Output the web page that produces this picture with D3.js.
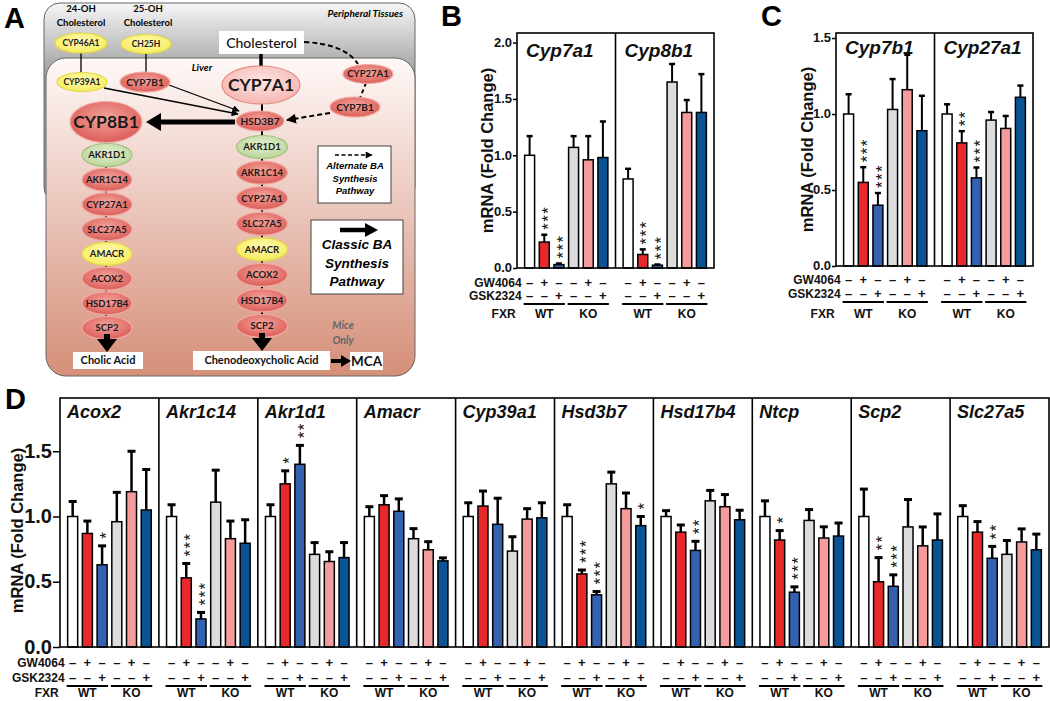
<!DOCTYPE html>
<html>
<head>
<meta charset="utf-8">
<script src="https://cdn.jsdelivr.net/npm/d3@7"></script>
<style>
body { margin: 0; background: #fff; }
svg { display: block; font-family: Arial, "Liberation Sans", sans-serif; }
</style>
</head>
<body>
<script>
// treatment layout, same in every bar panel
var gw4064 = ["–", "+", "–", "–", "+", "–"];
var gsk2324 = ["–", "–", "+", "–", "–", "+"];
var fxrGroups = ["WT", "KO"];
var barColors = ["#ffffff", "#e8282a", "#3462b0", "#dcdcdc", "#f59b9c", "#0a5495"];

// panel B
var genesB = ["Cyp7a1", "Cyp8b1"];
var meansB = [[1.0, 0.23, 0.03, 1.07, 0.96, 0.98], [0.79, 0.12, 0.025, 1.65, 1.38, 1.38]];
var errsB = [[0.17, 0.065, 0.01, 0.10, 0.21, 0.32], [0.09, 0.045, 0.006, 0.16, 0.11, 0.34]];
var starsB = [["", "***", "***", "", "", ""], ["", "***", "***", "", "", ""]];
var ticksB = [0, 0.5, 1, 1.5, 2];

// panel C
var genesC = ["Cyp7b1", "Cyp27a1"];
var meansC = [[1.0, 0.55, 0.40, 1.03, 1.16, 0.89], [1.0, 0.81, 0.58, 0.96, 0.905, 1.11]];
var errsC = [[0.13, 0.10, 0.08, 0.20, 0.23, 0.23], [0.064, 0.077, 0.068, 0.053, 0.082, 0.077]];
var starsC = [["", "***", "***", "", "", ""], ["", "**", "***", "", "", ""]];
var ticksC = [0, 0.5, 1, 1.5];

// panel D
var genesD = ["Acox2", "Akr1c14", "Akr1d1", "Amacr", "Cyp39a1", "Hsd3b7", "Hsd17b4", "Ntcp", "Scp2", "Slc27a5"];
var meansD = [
  [1.0, 0.87, 0.63, 0.96, 1.19, 1.05],
  [1.0, 0.53, 0.215, 1.11, 0.83, 0.795],
  [1.0, 1.25, 1.40, 0.71, 0.655, 0.685],
  [1.0, 1.09, 1.04, 0.83, 0.745, 0.66],
  [1.0, 1.08, 0.94, 0.735, 0.98, 0.99],
  [1.0, 0.56, 0.40, 1.25, 1.06, 0.93],
  [1.0, 0.88, 0.74, 1.12, 1.075, 0.975],
  [1.0, 0.82, 0.42, 0.97, 0.835, 0.85],
  [1.0, 0.50, 0.465, 0.92, 0.775, 0.82],
  [1.0, 0.88, 0.68, 0.71, 0.805, 0.745]
];
var errsD = [
  [0.115, 0.095, 0.145, 0.225, 0.31, 0.31],
  [0.09, 0.11, 0.05, 0.245, 0.135, 0.18],
  [0.09, 0.10, 0.145, 0.09, 0.075, 0.115],
  [0.075, 0.07, 0.095, 0.077, 0.062, 0.023],
  [0.105, 0.115, 0.20, 0.11, 0.08, 0.115],
  [0.09, 0.03, 0.025, 0.09, 0.12, 0.07],
  [0.045, 0.055, 0.07, 0.08, 0.093, 0.073],
  [0.12, 0.072, 0.041, 0.083, 0.086, 0.10],
  [0.21, 0.185, 0.088, 0.21, 0.145, 0.20],
  [0.083, 0.081, 0.091, 0.106, 0.10, 0.12]
];
var starsD = [
  ["", "", "*", "", "", ""],
  ["", "***", "***", "", "", ""],
  ["", "*", "**", "", "", ""],
  ["", "", "", "", "", ""],
  ["", "", "", "", "", ""],
  ["", "***", "***", "", "", "*"],
  ["", "", "**", "", "", ""],
  ["", "*", "***", "", "", ""],
  ["", "**", "***", "", "", ""],
  ["", "", "**", "", "", ""]
];
var ticksD = [0, 0.5, 1, 1.5];

// panel A pathway
var leftPath = ["AKR1D1", "AKR1C14", "CYP27A1", "SLC27A5", "AMACR", "ACOX2", "HSD17B4", "SCP2"];
var rightPath = ["AKR1D1", "AKR1C14", "CYP27A1", "SLC27A5", "AMACR", "ACOX2", "HSD17B4", "SCP2"];
var enzymeKind = { AKR1D1: "green", AMACR: "yellow" };

var svg = d3.select("body").append("svg").attr("width", 1050).attr("height", 701);
var defs = svg.append("defs");

function radial(id, c0, c1) {
  var g = defs.append("radialGradient").attr("id", id).attr("cx", "50%").attr("cy", "40%").attr("r", "60%");
  g.append("stop").attr("offset", "0%").attr("stop-color", c0);
  g.append("stop").attr("offset", "100%").attr("stop-color", c1);
}
radial("gRed", "#f4a39d", "#dc5d57");
radial("gYellow", "#fffbb8", "#f6ec5a");
radial("gGreen", "#e2efd0", "#bcd69c");
radial("gPink", "#fde6e4", "#f6b6b1");

var lg = defs.append("linearGradient").attr("id", "gGray").attr("gradientUnits", "userSpaceOnUse")
  .attr("x1", 0).attr("y1", 3).attr("x2", 0).attr("y2", 70);
lg.append("stop").attr("offset", "0%").attr("stop-color", "#f6f6f6");
lg.append("stop").attr("offset", "100%").attr("stop-color", "#a4a4a4");
var lv = defs.append("linearGradient").attr("id", "gLiver").attr("gradientUnits", "userSpaceOnUse")
  .attr("x1", 0).attr("y1", 58).attr("x2", 0).attr("y2", 376);
lv.append("stop").attr("offset", "0%").attr("stop-color", "#fef8f7");
lv.append("stop").attr("offset", "100%").attr("stop-color", "#d58f79");

function marker(id, w, h) {
  defs.append("marker").attr("id", id).attr("viewBox", "0 0 10 10").attr("refX", 9).attr("refY", 5)
    .attr("markerWidth", w).attr("markerHeight", h).attr("orient", "auto").attr("markerUnits", "userSpaceOnUse")
    .append("path").attr("d", "M0,0 L10,5 L0,10 z").attr("fill", "#000");
}
marker("arrThin", 8, 7);
marker("arrDash", 10, 10);

// ---------------- panel A ----------------
var A = svg.append("g").attr("class", "panelA");
var dfont = "Lato, 'Open Sans', sans-serif";

A.append("rect").attr("x", 44).attr("y", 3).attr("width", 371).attr("height", 200).attr("rx", 16)
  .attr("fill", "url(#gGray)").attr("stroke", "#666").attr("stroke-width", 1);
A.append("rect").attr("x", 46).attr("y", 58).attr("width", 369).attr("height", 318).attr("rx", 20)
  .attr("fill", "url(#gLiver)").attr("stroke", "#666").attr("stroke-width", 1);

A.append("text").attr("x", 403).attr("y", 17).attr("text-anchor", "end")
  .style("font", "italic bold 10px " + dfont).text("Peripheral Tissues");
A.append("text").attr("x", 202).attr("y", 71).attr("text-anchor", "middle")
  .style("font", "italic bold 10px " + dfont).text("Liver");

[["24-OH", 81], ["25-OH", 148]].forEach(function(d) {
  var t = A.append("text").attr("x", d[1]).attr("text-anchor", "middle").style("font", "bold 9.5px " + dfont);
  t.append("tspan").attr("x", d[1]).attr("y", 12).text(d[0]);
  t.append("tspan").attr("x", d[1]).attr("y", 26).text("Cholesterol");
});

function line(x1, y1, x2, y2, w, dash, mk) {
  var l = A.append("line").attr("x1", x1).attr("y1", y1).attr("x2", x2).attr("y2", y2)
    .attr("stroke", "#000").attr("stroke-width", w);
  if (dash) l.attr("stroke-dasharray", dash);
  if (mk) l.attr("marker-end", "url(#" + mk + ")");
  return l;
}

function enzyme(name, cx, cy, rx, ry, size) {
  var kind = enzymeKind[name] || "red";
  var fill = { red: "url(#gRed)", yellow: "url(#gYellow)", green: "url(#gGreen)", pink: "url(#gPink)" };
  var edge = { red: "#f0aaa4", yellow: "#e2d84a", green: "#a3c27e", pink: "#e28c86" };
  return { name: name, cx: cx, cy: cy, rx: rx, ry: ry, size: size, fill: fill[kind], edge: edge[kind] };
}

var yL = d3.scalePoint().domain(d3.range(leftPath.length)).range([155, 328]);
var yR = d3.scalePoint().domain(d3.range(rightPath.length)).range([147, 326]);

// connector lines behind the ellipses
line(106, 130, 106, 330, 2);
line(262, 100, 262, 330, 2);
line(81, 50, 81, 74, 1.3);
line(146, 50, 146, 72, 1.3);
line(261, 52, 261, 68, 3.5);

// arrows into HSD3B7
line(104, 88, 238, 114, 1.3, null, "arrThin");
line(169, 85, 239, 111, 1.3, null, "arrThin");
A.append("path").attr("d", "M304,42 Q345,44 358,64").attr("fill", "none").attr("stroke", "#000")
  .attr("stroke-width", 2).attr("stroke-dasharray", "5,3");
line(366, 83, 360, 98, 2, "4,3");
line(330, 113, 287, 120, 2, "5,3", "arrDash");

// thick arrow to CYP8B1
line(235, 122, 158, 122, 5);
A.append("path").attr("d", "M146,122 L161,113 L161,131 z").attr("fill", "#000");

var nodes = [
  enzyme("CYP46A1", 81, 43, 26, 10, 8.5),
  enzyme("CH25H", 146, 44, 25, 9.5, 8.5),
  enzyme("CYP39A1", 82, 82, 25, 9.5, 8.5),
  enzyme("CYP7B1", 145, 82, 25, 10, 10),
  enzyme("CYP27A1", 368, 74, 25, 9.5, 9.5),
  enzyme("CYP7B1", 355, 107, 25, 10, 10),
  enzyme("HSD3B7", 260, 121, 24, 10, 10),
  enzyme("CYP8B1", 106, 122, 36, 20.5, 17.5)
];
nodes[0].fill = "url(#gYellow)"; nodes[0].edge = "#e2d84a";
nodes[1].fill = "url(#gYellow)"; nodes[1].edge = "#e2d84a";
nodes[2].fill = "url(#gYellow)"; nodes[2].edge = "#e2d84a";
var c7a1 = enzyme("CYP7A1", 261, 85, 39, 19, 17.5);
c7a1.fill = "url(#gPink)"; c7a1.edge = "#e28c86";
nodes.push(c7a1);
leftPath.forEach(function(n, i) { nodes.push(enzyme(n, 107, yL(i), 25, 11.5, 9.5)); });
rightPath.forEach(function(n, i) { nodes.push(enzyme(n, 262, yR(i), 25.5, 11.5, 9.5)); });

var ng = A.selectAll("g.node").data(nodes).enter().append("g").attr("class", "node");
ng.append("ellipse").attr("cx", function(d) { return d.cx; }).attr("cy", function(d) { return d.cy; })
  .attr("rx", function(d) { return d.rx; }).attr("ry", function(d) { return d.ry; })
  .attr("fill", function(d) { return d.fill; }).attr("stroke", function(d) { return d.edge; }).attr("stroke-width", 1.2);
ng.append("text").attr("x", function(d) { return d.cx; }).attr("y", function(d) { return d.cy; })
  .attr("dy", "0.36em").attr("text-anchor", "middle").attr("fill", "#1a1a1a")
  .style("font", function(d) { return "bold " + d.size + "px " + dfont; })
  .text(function(d) { return d.name; });

// cholesterol and products
function labelBox(txt, x0, y0, x1, y1, font) {
  A.append("rect").attr("x", x0).attr("y", y0).attr("width", x1 - x0).attr("height", y1 - y0).attr("fill", "#fff");
  A.append("text").attr("x", (x0 + x1) / 2).attr("y", (y0 + y1) / 2).attr("dy", "0.36em")
    .attr("text-anchor", "middle").attr("fill", "#111").style("font", font).text(txt);
}
labelBox("Cholesterol", 219, 31, 304, 54, "500 14px " + dfont);
labelBox("Cholic Acid", 73, 352, 143, 369, "bold 11px " + dfont);
labelBox("Chenodeoxycholic Acid", 193, 351, 330, 370, "bold 11px " + dfont);
labelBox("MCA", 350, 352, 383, 370, "bold 13.5px " + dfont);

A.append("path").attr("d", "M97,339 L117,339 L107,352 z").attr("fill", "#000");
A.append("rect").attr("x", 104).attr("y", 334).attr("width", 6).attr("height", 6).attr("fill", "#000");
A.append("path").attr("d", "M252,338 L272,338 L262,351 z").attr("fill", "#000");
A.append("rect").attr("x", 259).attr("y", 333).attr("width", 6).attr("height", 6).attr("fill", "#000");
line(331, 361, 342, 361, 4);
A.append("path").attr("d", "M341,355 L351,361 L341,367 z").attr("fill", "#000");

var mice = A.append("text").attr("text-anchor", "middle").attr("fill", "#666")
  .style("font", "italic bold 10.5px " + dfont);
mice.append("tspan").attr("x", 343).attr("y", 329).text("Mice");
mice.append("tspan").attr("x", 343).attr("y", 344).text("Only");

// legend boxes
A.append("rect").attr("x", 318).attr("y", 146).attr("width", 73).attr("height", 57)
  .attr("fill", "#fff").attr("stroke", "#444").attr("stroke-width", 1);
line(335, 155, 372, 155, 1.6, "4,2.5", "arrThin");
var lt1 = A.append("text").attr("text-anchor", "middle").style("font", "italic bold 9.5px Arial, sans-serif");
["Alternate BA", "Synthesis", "Pathway"].forEach(function(s, i) {
  lt1.append("tspan").attr("x", 355).attr("y", 169 + i * 12.5).text(s);
});
A.append("rect").attr("x", 311).attr("y", 220).attr("width", 92).attr("height", 74)
  .attr("fill", "#fff").attr("stroke", "#444").attr("stroke-width", 1);
line(340, 230, 366, 230, 4.5);
A.append("path").attr("d", "M365,223 L378,230 L365,237 z").attr("fill", "#000");
var lt2 = A.append("text").attr("text-anchor", "middle").style("font", "italic bold 13.5px Arial, sans-serif");
["Classic BA", "Synthesis", "Pathway"].forEach(function(s, i) {
  lt2.append("tspan").attr("x", 357).attr("y", 249 + i * 18.5).text(s);
});

// ---------------- bar panels ----------------
function barPanel(o) {
  var g = svg.append("g");
  var y = d3.scaleLinear().domain([0, o.max]).range([o.bottom, o.top]);
  var gx = d3.scaleBand().domain(d3.range(o.genes.length)).range([o.left, o.right]);
  var bx = d3.scaleBand().domain(d3.range(6)).range([0, gx.bandwidth()]).paddingInner(0.32).paddingOuter(0.52);
  var bw = bx.bandwidth();

  // axis
  var ax = g.append("g").attr("transform", "translate(" + o.left + ",0)")
    .call(d3.axisLeft(y).tickValues(o.ticks).tickFormat(d3.format(".1f")).tickSize(o.tickLen).tickPadding(1));
  ax.select(".domain").remove();
  ax.selectAll("line").attr("stroke", "#000").attr("stroke-width", 1.5);
  ax.selectAll("text").attr("fill", "#111").attr("dy", "0.3em").style("font-size", o.tickFont + "px").style("font-weight", "bold")
    .style("font-family", "Arial, 'Liberation Sans', sans-serif");

  g.append("text").attr("transform", "translate(" + o.ylabX + "," + ((o.top + o.bottom) / 2 + o.ylabDy) + ") rotate(-90)")
    .attr("text-anchor", "middle").attr("dy", "0.35em").attr("fill", "#111")
    .style("font", "bold " + o.ylabFont + "px Arial, sans-serif").text("mRNA (Fold Change)");

  o.genes.forEach(function(gene, gi) {
    var px = gx(gi);
    var pg = g.append("g").attr("transform", "translate(" + px + ",0)");
    var rows = d3.range(6).map(function(i) {
      return { i: i, m: o.means[gi][i], e: o.errs[gi][i], s: o.stars[gi][i] };
    });
    // error bars
    pg.selectAll("line.err").data(rows).enter().append("line")
      .attr("x1", function(d) { return bx(d.i) + bw / 2; }).attr("x2", function(d) { return bx(d.i) + bw / 2; })
      .attr("y1", function(d) { return y(d.m); }).attr("y2", function(d) { return y(d.m + d.e); })
      .attr("stroke", "#000").attr("stroke-width", o.errW);
    pg.selectAll("line.cap").data(rows).enter().append("line")
      .attr("x1", function(d) { return bx(d.i) + bw / 2 - o.cap / 2; }).attr("x2", function(d) { return bx(d.i) + bw / 2 + o.cap / 2; })
      .attr("y1", function(d) { return y(d.m + d.e); }).attr("y2", function(d) { return y(d.m + d.e); })
      .attr("stroke", "#000").attr("stroke-width", o.errW + 0.5);
    // bars
    pg.selectAll("rect.bar").data(rows).enter().append("rect")
      .attr("x", function(d) { return bx(d.i); }).attr("width", bw)
      .attr("y", function(d) { return y(d.m); }).attr("height", function(d) { return o.bottom - y(d.m); })
      .attr("fill", function(d) { return barColors[d.i]; }).attr("stroke", "#000").attr("stroke-width", 1.5);
    // significance stars, stacked vertically (one rotated text each)
    pg.selectAll("text.star").data(rows.filter(function(d) { return d.s; })).enter().append("text")
      .attr("transform", function(d) {
        return "translate(" + (bx(d.i) + bw / 2 + o.starFont * 0.57) + "," + (y(d.m + d.e) - o.starGap) + ") rotate(-90)";
      })
      .attr("fill", "#111").style("font", o.starFont + "px Arial, sans-serif")
      .style("letter-spacing", o.starSpace + "px").text(function(d) { return d.s; });
    // gene title
    pg.append("text").attr("x", o.titleX).attr("y", o.top + o.titleDy).attr("fill", "#111")
      .style("font", "italic bold " + o.titleFont + "px Arial, sans-serif").text(gene);
    // sign rows
    [gw4064, gsk2324].forEach(function(sig, r) {
      pg.selectAll("text.sig" + r).data(sig).enter().append("text")
        .attr("x", function(d, i) { return bx(i) + bw / 2; }).attr("y", o.rowY[r])
        .attr("text-anchor", "middle").attr("fill", "#111")
        .style("font", "bold " + o.signFont + "px Arial, sans-serif").text(function(d) { return d; });
    });
    fxrGroups.forEach(function(grp, k) {
      var a = bx(k * 3) - 1, b = bx(k * 3 + 2) + bw + 1;
      pg.append("line").attr("x1", a).attr("x2", b).attr("y1", o.lineY).attr("y2", o.lineY)
        .attr("stroke", "#000").attr("stroke-width", 2);
      pg.append("text").attr("x", (a + b) / 2).attr("y", o.fxrY).attr("text-anchor", "middle").attr("fill", "#111")
        .style("font", "bold " + o.rowFont + "px Arial, sans-serif").text(grp);
    });
  });

  // frame and dividers
  g.append("rect").attr("x", o.left).attr("y", o.top).attr("width", o.right - o.left).attr("height", o.bottom - o.top)
    .attr("fill", "none").attr("stroke", "#000").attr("stroke-width", 1.6);
  g.selectAll("line.div").data(d3.range(1, o.genes.length)).enter().append("line")
    .attr("x1", function(d) { return gx(d); }).attr("x2", function(d) { return gx(d); })
    .attr("y1", o.top).attr("y2", o.bottom).attr("stroke", "#000").attr("stroke-width", 1.6);

  // row labels
  var lx = o.left + bx(0) - 3;
  [["GW4064", o.rowY[0]], ["GSK2324", o.rowY[1]], ["FXR", o.fxrY]].forEach(function(r) {
    g.append("text").attr("x", r[0] === "FXR" ? lx - 6 : lx).attr("y", r[1]).attr("text-anchor", "end").attr("fill", "#111")
      .style("font", "bold " + o.rowFont + "px Arial, sans-serif").text(r[0]);
  });
}

barPanel({ left: 517, right: 714, top: 33, bottom: 268, max: 2.085, ticks: ticksB,
  genes: genesB, means: meansB, errs: errsB, stars: starsB,
  tickFont: 13, tickLen: 4, ylabX: 487, ylabDy: 0, ylabFont: 16.5, titleFont: 19, titleX: 9, titleDy: 24,
  errW: 2, cap: 6, starFont: 17, starGap: 5, starSpace: 1.4,
  signFont: 13, rowFont: 12, rowY: [287, 300], lineY: 304, fxrY: 318 });

barPanel({ left: 836, right: 1033, top: 33, bottom: 266, max: 1.533, ticks: ticksC,
  genes: genesC, means: meansC, errs: errsC, stars: starsC,
  tickFont: 13, tickLen: 4, ylabX: 807, ylabDy: 0, ylabFont: 16.5, titleFont: 19, titleX: 9, titleDy: 21,
  errW: 2, cap: 6, starFont: 17, starGap: 5, starSpace: 1.4,
  signFont: 13, rowFont: 12, rowY: [284, 298], lineY: 302, fxrY: 318 });

barPanel({ left: 60, right: 1049, top: 398, bottom: 647, max: 1.908, ticks: ticksD,
  genes: genesD, means: meansD, errs: errsD, stars: starsD,
  tickFont: 20, tickLen: 7, ylabX: 17, ylabDy: 8, ylabFont: 16.5, titleFont: 18, titleX: 7, titleDy: 20,
  errW: 2.5, cap: 8, starFont: 17, starGap: 7, starSpace: 1.4,
  signFont: 13, rowFont: 12, rowY: [667, 682], lineY: 686, fxrY: 697 });

// panel letters
[["A", 4, 28], ["B", 441, 26], ["C", 761, 26], ["D", 5, 409]].forEach(function(p) {
  svg.append("text").attr("x", p[1]).attr("y", p[2]).attr("fill", "#000")
    .style("font", "bold 29px Arial, sans-serif").text(p[0]);
});
</script>
</body>
</html>
